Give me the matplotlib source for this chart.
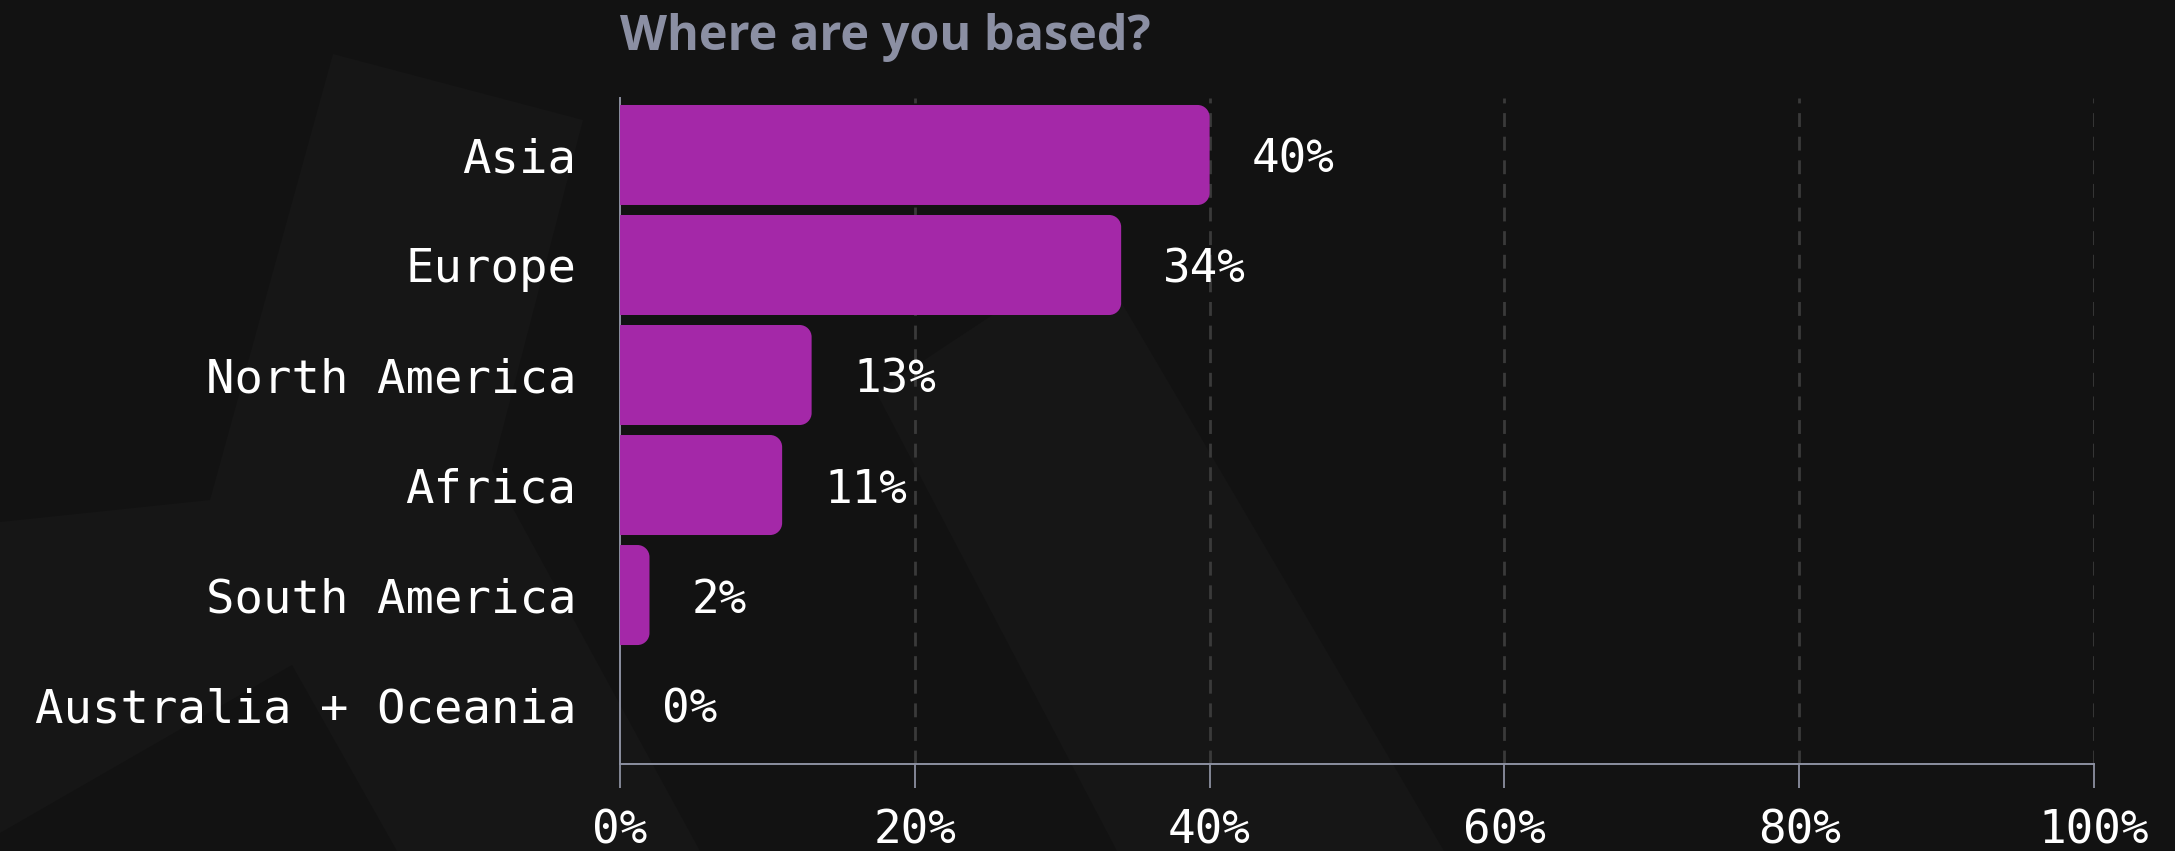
import numpy as np
import matplotlib
matplotlib.use("Agg")
import matplotlib.pyplot as plt
from matplotlib.path import Path
from matplotlib.patches import PathPatch, Polygon

# ---------------------------------------------------------------------------
# Datos
# ---------------------------------------------------------------------------
regiones = ["Asia", "Europe", "North America", "Africa",
            "South America", "Australia + Oceania"]
porcentajes = [40, 34, 13, 11, 2, 0]
ticks_x = [0, 20, 40, 60, 80, 100]
titulo = "Where are you based?"

# ---------------------------------------------------------------------------
# Estilo
# ---------------------------------------------------------------------------
FONDO = "#121212"
FONDO_CLARO = "#161616"
MORADO = "#a428a8"
GRIS_EJE = "#8c90a0"
GRIS_TITULO = "#8b8fa3"
GRIS_REJILLA = "#3a3a3a"
MONO = "DejaVu Sans Mono"

W, H, DPI = 2175, 851, 100


def px(x, y):
    """Pasa píxeles (origen arriba a la izquierda) a fracción de figura."""
    return x / W, 1 - y / H


def barra_redondeada(ax, y, ancho, alto, r_px, color):
    """Barra horizontal con sólo las esquinas derechas redondeadas."""
    if ancho <= 0:
        return
    bbox = ax.get_window_extent()
    x0, x1 = ax.get_xlim()
    y0, y1 = ax.get_ylim()
    ppx = bbox.width / (x1 - x0)
    ppy = bbox.height / abs(y1 - y0)
    rx = min(r_px / ppx, ancho / 2)
    ry = min(r_px / ppy, alto / 2)
    top, bot = y - alto / 2, y + alto / 2
    k = 0.5523
    verts = [
        (0, top),
        (ancho - rx, top),
        (ancho - rx + k * rx, top), (ancho, top + ry - k * ry), (ancho, top + ry),
        (ancho, bot - ry),
        (ancho, bot - ry + k * ry), (ancho - rx + k * rx, bot), (ancho - rx, bot),
        (0, bot),
        (0, top),
    ]
    codes = [Path.MOVETO, Path.LINETO,
             Path.CURVE4, Path.CURVE4, Path.CURVE4,
             Path.LINETO,
             Path.CURVE4, Path.CURVE4, Path.CURVE4,
             Path.LINETO, Path.CLOSEPOLY]
    ax.add_patch(PathPatch(Path(verts, codes), facecolor=color,
                           edgecolor="none", zorder=3))


fig = plt.figure(figsize=(W / DPI, H / DPI), dpi=DPI, facecolor=FONDO)

# Formas decorativas del fondo (por debajo de los ejes)
formas = [
    [(333, 54), (583, 120), (492, 470), (700, 851), (397, 851),
     (292, 665), (0, 833), (0, 522), (210, 500)],
    [(876, 392), (1000, 310), (1120, 300), (1444, 851), (1117, 851)],
]
for f in formas:
    fig.patches.append(Polygon([px(x, y) for x, y in f], closed=True,
                               transform=fig.transFigure, facecolor=FONDO_CLARO,
                               edgecolor="none", zorder=-10))

l, r = 620, 2094
t, b = 98, 764
ax = fig.add_axes([l / W, 1 - b / H, (r - l) / W, (b - t) / H])
ax.set_facecolor("none")
ax.set_zorder(1)

ypos = np.arange(len(regiones))
ax.set_xlim(0, 100)
ax.set_ylim(len(regiones) - 1 + 0.536, -0.518)

alto = 100 / 110
for y, v in zip(ypos, porcentajes):
    barra_redondeada(ax, y, v, alto, 12, MORADO)
    ax.annotate(f"{v}%", xy=(v, y), xytext=(42, 0), textcoords="offset pixels",
                ha="left", va="center_baseline", color="white",
                fontsize=33, family=MONO)

ax.set_yticks(ypos)
ax.set_yticklabels(regiones, family=MONO, fontsize=34, color="white")
ax.tick_params(axis="y", length=0, pad=31.5)

ax.set_xticks(ticks_x)
ax.set_xticklabels([f"{v}%" for v in ticks_x], family=MONO, fontsize=33,
                   color="white")
ax.tick_params(axis="x", length=17, width=1.3, color=GRIS_EJE, pad=15)

for x in ticks_x[1:]:
    ax.axvline(x, color=GRIS_REJILLA, lw=2.0, ls=(0, (5, 3.5)), zorder=1)

for lado in ["top", "right"]:
    ax.spines[lado].set_visible(False)
for lado in ["left", "bottom"]:
    ax.spines[lado].set_color(GRIS_EJE)
    ax.spines[lado].set_linewidth(1.4)

fig.text(l / W, 1 - 50 / H, titulo, ha="left", va="baseline",
         fontsize=35, fontweight="bold", family="Open Sans", color=GRIS_TITULO)

fig.savefig("out.png", dpi=DPI, facecolor=FONDO)
